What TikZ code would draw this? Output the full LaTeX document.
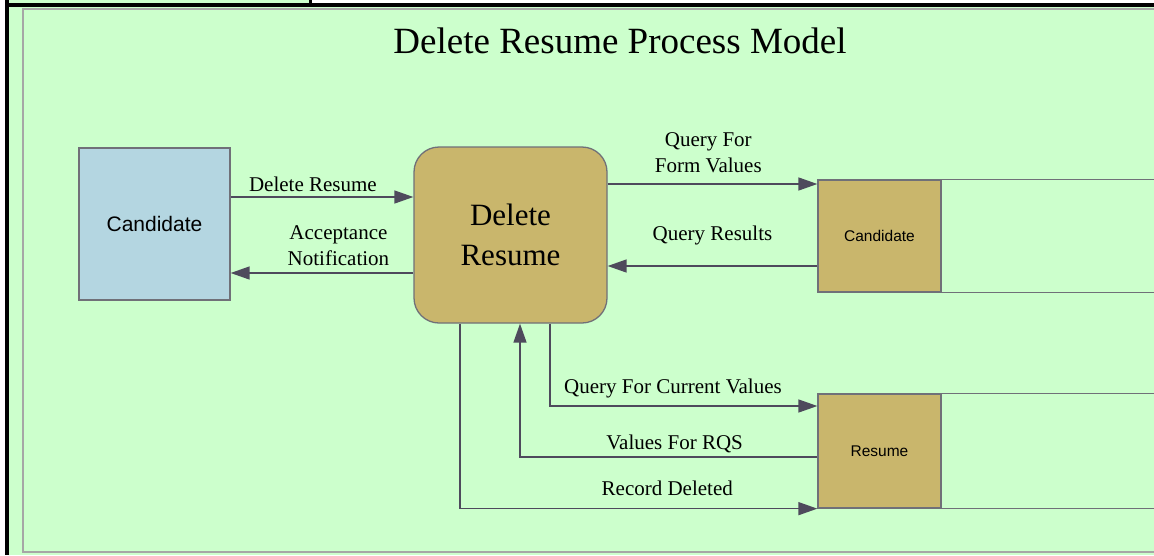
\documentclass[tikz,border=0pt]{standalone}
\usepackage{fontspec}
\setmainfont{Liberation Serif}
\setsansfont{Liberation Sans}
\usepackage{xcolor}
\usepackage{tikz}
\usetikzlibrary{
  arrows.meta
}

\definecolor{bggreen}{RGB}{204,255,204}
\definecolor{entblue}{RGB}{180,214,225}
\definecolor{proctan}{RGB}{201,182,108}
\definecolor{edgegray}{RGB}{112,112,120}
\definecolor{flowgray}{RGB}{78,74,92}

\begin{document}
\begin{tikzpicture}[
  x=1pt, y=-1pt,
  font=\fontsize{21}{26}\selectfont,
  entity/.style={
    rectangle,
    draw=edgegray,
    fill=entblue,
    line width=1.3pt,
    minimum width=151pt,
    minimum height=152pt,
    font=\sffamily\fontsize{21}{26}\selectfont
  },
  process/.style={
    rectangle,
    rounded corners=25pt,
    draw=edgegray,
    fill=proctan,
    line width=1.3pt,
    minimum width=193pt,
    minimum height=176pt,
    align=center,
    font=\fontsize{31}{40}\selectfont
  },
  store/.style={
    rectangle,
    draw=edgegray,
    fill=proctan,
    line width=1.3pt,
    minimum width=123pt,
    font=\sffamily\fontsize{15.5}{18}\selectfont
  },
  storeline/.style={
    draw=edgegray,
    line width=1.3pt
  },
  flow/.style={
    -{Triangle[length=19pt, width=13pt]},
    line width=1.5pt,
    draw=flowgray
  },
  flowlabel/.style={
    align=center,
    inner sep=0pt
  }
]
\useasboundingbox (0,0) rectangle (1154,555);

% Page frame
\fill[white] (0,0) rectangle (1154,555);
\fill[bggreen] (9,7) rectangle (1154,555);
\fill[bggreen] (9,0) rectangle (309,3);
\fill[black] (5,0) rectangle (9,555);
\fill[black] (5,3) rectangle (1154,7);
\fill[black] (309,0) rectangle (312,3);
\draw[gray!70, line width=2pt] (22.5,8.5) rectangle (1170,552);

% Title
\node[anchor=base, font=\fontsize{37}{44}\selectfont] (title) at (620,53) {Delete Resume Process Model};

% Entity and process
\node[entity] (cand) at (154.5,224) {Candidate};
\node[process] (del) at (510.5,235) {Delete\\Resume};

% Data stores
\node[store, minimum height=112pt] (candstore) at (879.5,236) {Candidate};
\node[store, minimum height=114pt] (resstore) at (879.5,451) {Resume};
\draw[storeline] (candstore.north east) -- ++(240,0);
\draw[storeline] (candstore.south east) -- ++(240,0);
\draw[storeline] (resstore.north east) -- ++(240,0);
\draw[storeline] (resstore.south east) -- ++(240,0);

% Flow end points
\coordinate (f1) at ([yshift=27pt]cand.east);
\coordinate (f2) at ([yshift=-38pt]del.west);
\coordinate (f3) at ([yshift=51pt]del.east);
\coordinate (f4) at ([yshift=-30pt]candstore.west);
\coordinate (f5) at ([xshift=39.5pt]del.south);
\coordinate (f5b) at ([yshift=45pt]resstore.west);
\coordinate (f6) at ([yshift=-6pt]resstore.west);
\coordinate (f6b) at ([xshift=9.5pt]del.south);
\coordinate (f7) at ([xshift=-50.5pt]del.south);

% Flows with the candidate
\draw[flow] (f1) -- node[flowlabel, pos=0.45, above=5pt]{Delete Resume} (f1 -| del.west);
\draw[flow] (f2) -- node[flowlabel, pos=0.41, above=7pt]{Acceptance\\Notification} (f2 -| cand.east);

% Flows with the stores
\draw[flow] (f3) -- node[flowlabel, pos=0.48, above=10pt]{Query For\\Form Values} (f3 -| candstore.west);
\draw[flow] (f4) -- node[flowlabel, pos=0.5, above=20.5pt]{Query Results} (f4 -| del.east);
\draw[flow] (f5) |- node[flowlabel, pos=0.73, above=7.5pt]{Query For Current Values} (f5b);
\draw[flow] (f6) -| node[flowlabel, pos=0.24, above=3pt]{Values For RQS} (f6b);
\draw[flow] (f7) |- node[flowlabel, pos=0.79, above=12pt]{Record Deleted} (resstore.south west);

\end{tikzpicture}
\end{document}
